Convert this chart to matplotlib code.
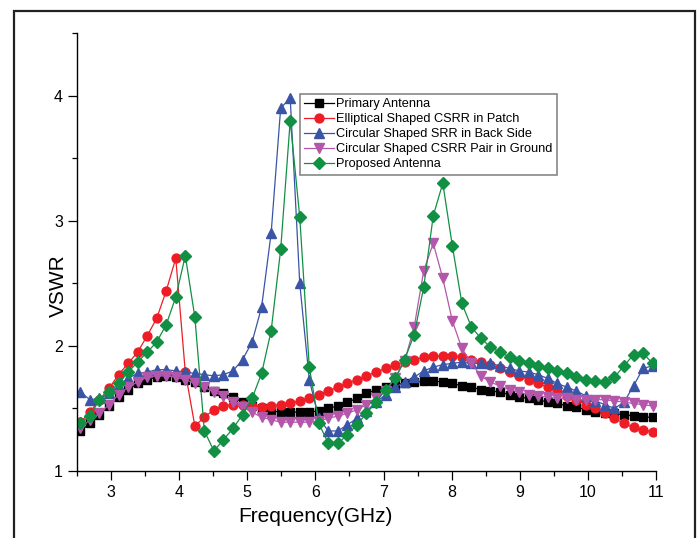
import numpy as np
import matplotlib
matplotlib.use('Agg')
import matplotlib.pyplot as plt
from matplotlib.patches import Rectangle

plt.rcParams['font.family'] = ['Liberation Sans', 'DejaVu Sans']

# frequency sampling (GHz), 61 points
freq = np.linspace(2.55, 10.95, 61)

primary = [1.32, 1.38, 1.45, 1.52, 1.59, 1.65, 1.70, 1.73, 1.75, 1.76, 1.75, 1.73,
           1.71, 1.67, 1.64, 1.62, 1.59, 1.55, 1.52, 1.50, 1.48, 1.47, 1.47, 1.47,
           1.47, 1.48, 1.50, 1.52, 1.55, 1.58, 1.62, 1.65, 1.67, 1.69, 1.70,
           1.71, 1.72, 1.72, 1.71, 1.70, 1.68, 1.67, 1.65, 1.64, 1.63, 1.61, 1.59,
           1.58, 1.57, 1.55, 1.54, 1.52, 1.51, 1.49, 1.47, 1.46, 1.46, 1.45, 1.44,
           1.43, 1.43]
elliptical = [1.39, 1.47, 1.57, 1.66, 1.77, 1.86, 1.95, 2.08, 2.22, 2.44, 2.70, 1.79,
              1.36, 1.43, 1.49, 1.52, 1.53, 1.53, 1.52, 1.51, 1.52, 1.53, 1.54, 1.56, 1.58, 1.61,
              1.64, 1.67, 1.70, 1.73, 1.76, 1.79, 1.82, 1.85, 1.87, 1.89, 1.91, 1.92, 1.92, 1.92,
              1.91, 1.89, 1.87, 1.85, 1.82, 1.79, 1.76, 1.73, 1.70, 1.67, 1.64, 1.60, 1.57,
              1.53, 1.50, 1.46, 1.42, 1.38, 1.35, 1.33, 1.31]
srr_back = [1.63, 1.57, 1.58, 1.62, 1.68, 1.74, 1.78, 1.79, 1.81, 1.81, 1.80, 1.79,
            1.78, 1.77, 1.76, 1.77, 1.80, 1.89, 2.03, 2.31, 2.90, 3.90, 3.98, 2.50,
            1.73, 1.42, 1.32, 1.32, 1.37, 1.42, 1.48, 1.55, 1.61, 1.67, 1.71, 1.75,
            1.80, 1.83, 1.85, 1.86, 1.87, 1.86, 1.86, 1.86, 1.84, 1.82, 1.80, 1.79,
            1.77, 1.74, 1.70, 1.67, 1.64, 1.60, 1.56, 1.53, 1.50, 1.55, 1.68, 1.82, 1.84]
csrr_ground = [1.34, 1.41, 1.46, 1.53, 1.61, 1.67, 1.71, 1.75, 1.76, 1.76, 1.75, 1.73,
               1.70, 1.67, 1.63, 1.60, 1.55, 1.51, 1.47, 1.43, 1.41, 1.39, 1.39, 1.39,
               1.39, 1.40, 1.42, 1.44, 1.46, 1.49, 1.53, 1.58, 1.64, 1.74, 1.88, 2.15,
               2.60, 2.82, 2.54, 2.20, 1.98, 1.86, 1.76, 1.71, 1.68, 1.65, 1.63, 1.61,
               1.60, 1.59, 1.58, 1.58, 1.57, 1.57, 1.57, 1.57, 1.56, 1.55, 1.54, 1.53, 1.52]
proposed = [1.38, 1.44, 1.57, 1.63, 1.70, 1.79, 1.87, 1.95, 2.03, 2.17, 2.39, 2.72,
            2.23, 1.32, 1.16, 1.25, 1.34, 1.45, 1.58, 1.78, 2.12, 2.77, 3.80, 3.03,
            1.83, 1.38, 1.22, 1.22, 1.29, 1.37, 1.46, 1.55, 1.65, 1.74, 1.89, 2.09,
            2.47, 3.04, 3.30, 2.80, 2.34, 2.15, 2.06, 1.99, 1.95, 1.91, 1.88, 1.86,
            1.84, 1.82, 1.80, 1.78, 1.75, 1.73, 1.72, 1.71, 1.75, 1.84, 1.93, 1.94, 1.86]

labels = ['Primary Antenna', 'Elliptical Shaped CSRR in Patch',
          'Circular Shaped SRR in Back Side', 'Circular Shaped CSRR Pair in Ground',
          'Proposed Antenna']

fig = plt.figure(figsize=(6.99, 5.38), dpi=100)
ax = fig.add_axes([77/699, 1-471/538, 579/699, 438/538])

# outer frame around the figure
fig.patches.append(Rectangle((13.5/699, -0.1), 681/699, 1.1 - 11/538,
                             transform=fig.transFigure, fill=False,
                             edgecolor='#222222', linewidth=1.6))

ax.plot(freq, primary, color='black', marker='s', ms=5.8, lw=0.9, label=labels[0])
ax.plot(freq, elliptical, color='#ee1c25', marker='o', ms=6.4, lw=0.9, label=labels[1])
ax.plot(freq, srr_back, color='#3a55a6', marker='^', ms=7.2, lw=0.9, label=labels[2])
ax.plot(freq, csrr_ground, color='#b457ab', marker='v', ms=7.2, lw=0.9, label=labels[3])
ax.plot(freq, proposed, color='#119043', marker='D', ms=6, lw=0.9, label=labels[4])

ax.set_xlim(2.5, 11)
ax.set_ylim(1, 4.5)
ax.set_xticks(range(3, 12))
ax.set_xticks(np.arange(2.5, 11.01, 0.5), minor=True)
ax.set_yticks([1, 2, 3, 4])
ax.set_yticks(np.arange(1.5, 4.51, 0.5), minor=True)
ax.tick_params(which='major', direction='out', length=6.5, width=0.9, labelsize=11.5, pad=3.5)
ax.tick_params(which='minor', direction='out', length=3.5, width=0.9)
for s in ['top', 'right']:
    ax.spines[s].set_visible(False)
for s in ['left', 'bottom']:
    ax.spines[s].set_linewidth(1.0)

ax.set_xlabel('Frequency(GHz)', fontsize=15)
ax.xaxis.label.set_va('center')
ax.xaxis.set_label_coords((315-77)/579, (471-516)/438)
ax.set_ylabel('VSWR', fontsize=15)
ax.yaxis.label.set_va('center')
ax.yaxis.set_label_coords((58-77)/579, (471-286)/438)

leg = ax.legend(loc='upper left', bbox_to_anchor=(300/699, 1-94/538),
                bbox_transform=fig.transFigure, borderaxespad=0,
                fontsize=9.2, handlelength=2.3, handletextpad=0.2,
                labelspacing=0.23, borderpad=0.35, fancybox=False,
                framealpha=1, edgecolor='#888888')
leg.get_frame().set_linewidth(1.2)

fig.savefig('out.png', dpi=100)
